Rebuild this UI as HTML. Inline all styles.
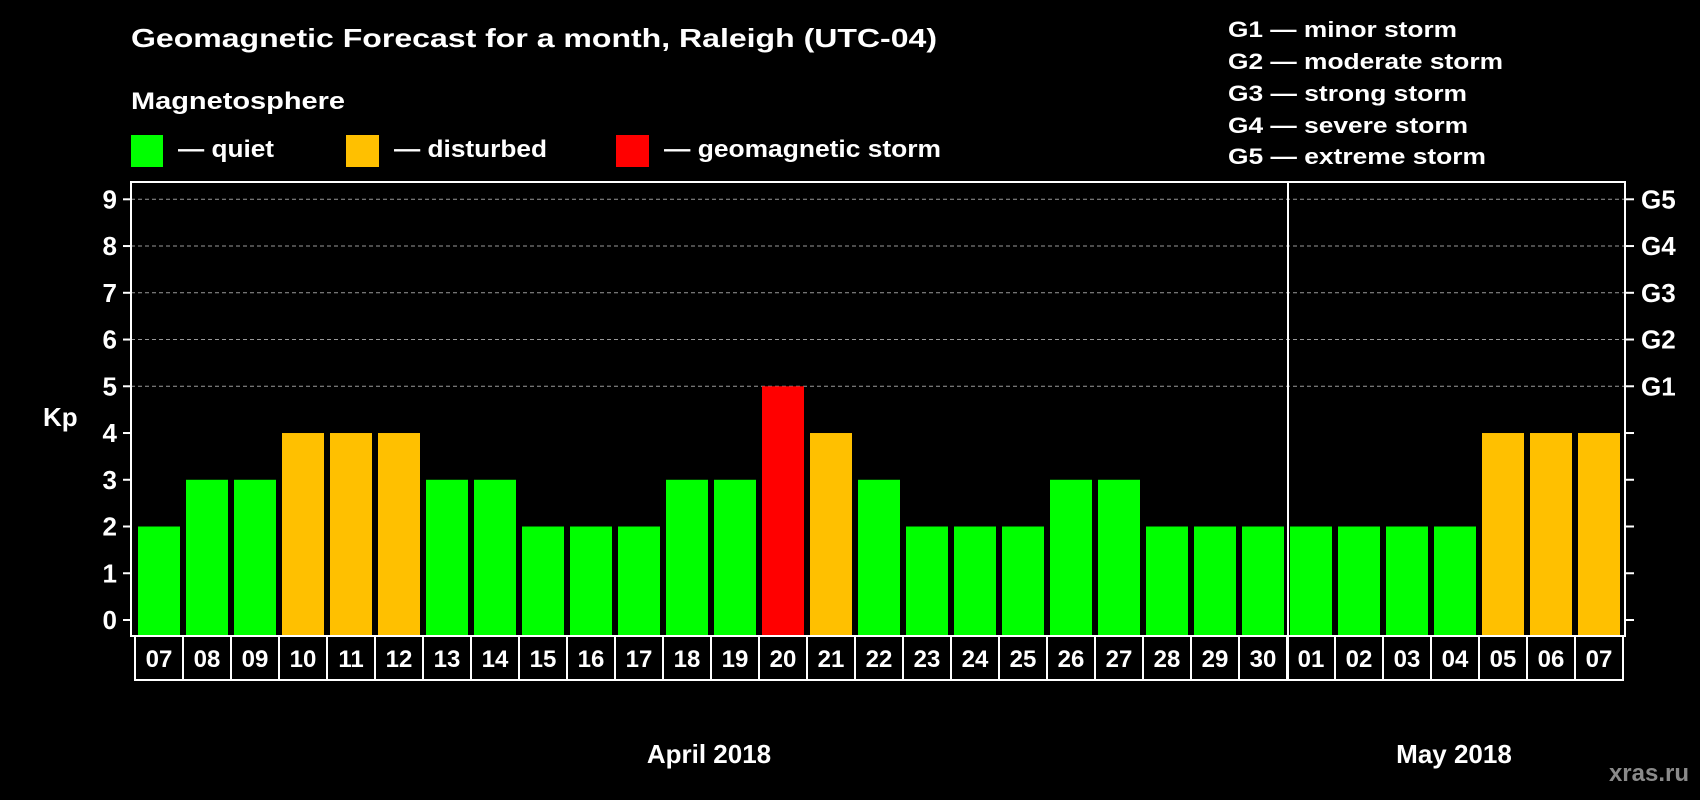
<!DOCTYPE html>
<html><head><meta charset="utf-8"><style>
html,body{margin:0;padding:0;background:#000;}
svg{display:block;font-family:"Liberation Sans",sans-serif;font-weight:bold;}
</style></head><body>
<svg id="chart" width="1700" height="800" viewBox="0 0 1700 800">
<rect x="0" y="0" width="1700" height="800" fill="#000"/>
<text x="131" y="47" font-size="26" fill="#fff" textLength="806" lengthAdjust="spacingAndGlyphs">Geomagnetic Forecast for a month, Raleigh (UTC-04)</text>
<text x="131" y="109" font-size="24" fill="#fff" textLength="214" lengthAdjust="spacingAndGlyphs">Magnetosphere</text>
<g>
<rect x="131" y="135" width="32" height="32" fill="#00ff00"/>
<text x="178" y="157" font-size="24" fill="#fff" textLength="96" lengthAdjust="spacingAndGlyphs">— quiet</text>
<rect x="346" y="135" width="33" height="32" fill="#ffc000"/>
<text x="394" y="157" font-size="24" fill="#fff" textLength="153" lengthAdjust="spacingAndGlyphs">— disturbed</text>
<rect x="616" y="135" width="33" height="32" fill="#ff0000"/>
<text x="664" y="157" font-size="24" fill="#fff" textLength="277" lengthAdjust="spacingAndGlyphs">— geomagnetic storm</text>
</g>
<g font-size="22" fill="#fff">
<text x="1228" y="37" textLength="229" lengthAdjust="spacingAndGlyphs">G1 — minor storm</text>
<text x="1228" y="69" textLength="275" lengthAdjust="spacingAndGlyphs">G2 — moderate storm</text>
<text x="1228" y="101" textLength="239" lengthAdjust="spacingAndGlyphs">G3 — strong storm</text>
<text x="1228" y="133" textLength="240" lengthAdjust="spacingAndGlyphs">G4 — severe storm</text>
<text x="1228" y="164" textLength="258" lengthAdjust="spacingAndGlyphs">G5 — extreme storm</text>
</g>
<text x="43" y="426" font-size="26" fill="#fff">Kp</text>
<g id="grid"></g><g id="bars"></g><g id="axes"></g>
<text x="709" y="763" font-size="26" fill="#fff" text-anchor="middle">April 2018</text>
<text x="1454" y="763" font-size="26" fill="#fff" text-anchor="middle">May 2018</text>
<text x="1689" y="781" font-size="24" fill="#8a8a8a" text-anchor="end">xras.ru</text>
</svg>
<script>
const days = ["07","08","09","10","11","12","13","14","15","16","17","18","19","20","21","22","23","24","25","26","27","28","29","30","01","02","03","04","05","06","07"];
const kpValues = [2,3,3,4,4,4,3,3,2,2,2,3,3,5,4,3,2,2,2,3,3,2,2,2,2,2,2,2,4,4,4];
const yTicks = [0,1,2,3,4,5,6,7,8,9];
const gLabels = ["G1","G2","G3","G4","G5"];
const monthSplitIndex = 24;

const NS = "http://www.w3.org/2000/svg";
const plotL = 131, plotR = 1625, plotT = 182, plotB = 636;
const y0 = 620, unit = (620 - 199.3) / 9;
const x0 = 135, step = 48;
function yScale(v){ return y0 - v * unit; }
function xScale(i){ return x0 + i * step; }
function colorFor(v){ return v >= 5 ? "#ff0000" : (v >= 4 ? "#ffc000" : "#00ff00"); }
function mk(tag, attrs, parent){ const e = document.createElementNS(NS, tag); for (const k in attrs) e.setAttribute(k, attrs[k]); parent.appendChild(e); return e; }

const grid = document.getElementById("grid"), bars = document.getElementById("bars"), axes = document.getElementById("axes");

yTicks.forEach(v => {
  const y = yScale(v);
  if (v >= 5) {
    const g = mk("line", {x1: plotL, x2: plotR, y1: y, y2: y, stroke: "#999", "stroke-width": 1, "stroke-dasharray": "4,3"}, grid);
    
    
  }
  const t = mk("line", {x1: plotL - 8, x2: plotL, y1: y, y2: y, stroke: "#fff", "stroke-width": 2}, axes);
  
  
  const tr = mk("line", {x1: plotR, x2: plotR + 9, y1: y, y2: y, stroke: "#fff", "stroke-width": 2}, axes);
  
  
  const lb = mk("text", {x: 117, y: y + 9, "font-size": 26, fill: "#fff", "text-anchor": "end"}, axes);
  lb.textContent = v;
  
  
});
gLabels.forEach((g, i) => {
  const lb = mk("text", {x: 1641, y: yScale(5 + i) + 9, "font-size": 26, fill: "#fff"}, axes);
  lb.textContent = g;
  
  
});

kpValues.forEach((v, i) => {
  const x = xScale(i) + 3;
  const r = mk("rect", {x: x, y: yScale(v), width: 42, height: plotB - 1 - yScale(v), fill: colorFor(v)}, bars);
  
  
  const box = mk("rect", {x: xScale(i), y: plotB, width: step, height: 44, fill: "none", stroke: "#fff", "stroke-width": 2}, axes);
  
  
  const t = mk("text", {x: xScale(i) + step / 2, y: plotB + 31, "font-size": 24, fill: "#fff", "text-anchor": "middle"}, axes);
  t.textContent = days[i];
  
  
});

const frame = mk("rect", {x: plotL, y: plotT, width: plotR - plotL, height: plotB - plotT, fill: "none", stroke: "#fff", "stroke-width": 2}, axes);


const sx = xScale(monthSplitIndex) + 1;
const div = mk("line", {x1: sx, x2: sx, y1: plotT, y2: plotB + 44, stroke: "#fff", "stroke-width": 2}, axes);


</script>
</body></html>
